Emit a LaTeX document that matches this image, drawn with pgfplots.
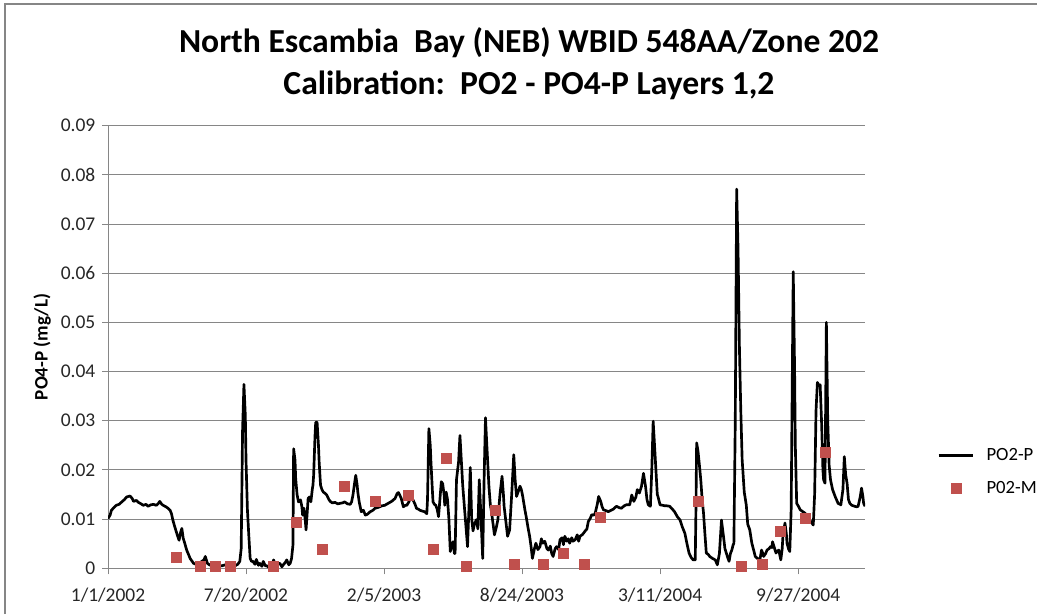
\documentclass[border=0pt]{standalone}
\usepackage{pgfplots}
\pgfplotsset{compat=1.18}
\usepackage{fontspec}
\setmainfont{Carlito}
\definecolor{gridgray}{RGB}{134,134,134}
\definecolor{obsred}{RGB}{192,80,77}

\pgfplotsset{
  lineleg/.style={legend image code/.code={\draw[##1] (0pt,0pt) -- (26pt,0pt);
    \path (33pt,0pt);}},
  markleg/.style={legend image code/.code={\draw[mark repeat=2,mark phase=2,##1]
    plot coordinates {(0pt,0pt)(13pt,0pt)(26pt,0pt)}; \path (33pt,0pt);}},
}

% modeled series (daily; day 0 = 1/1/2002)
\pgfplotstableread{
day val
0 0.0101
3 0.0108
5 0.0118
9 0.0124
12 0.0128
16 0.0130
20 0.0135
24 0.0140
27 0.0145
32 0.0147
35 0.0142
37 0.0136
41 0.0138
44 0.0134
48 0.0131
51 0.0128
55 0.0130
58 0.0126
62 0.0129
66 0.0130
70 0.0128
73 0.0132
75 0.0136
78 0.0130
80 0.0128
84 0.0125
87 0.0122
90 0.0118
92 0.0111
94 0.0098
96 0.0088
99 0.0074
101 0.0065
103 0.0057
105 0.0072
107 0.0081
109 0.0061
111 0.0052
114 0.0037
117 0.0027
119 0.0020
122 0.0014
124 0.0010
128 0.0008
131 0.0007
134 0.0012
136 0.0014
139 0.0017
141 0.0024
144 0.0010
147 0.0007
150 0.0005
154 0.0008
157 0.0010
161 0.0006
165 0.0005
170 0.0007
175 0.0004
180 0.0006
184 0.0005
188 0.0008
191 0.0014
193 0.0040
195 0.0280
197 0.0374
199 0.0310
200 0.0220
202 0.0120
204 0.0068
206 0.0020
208 0.0014
210 0.0014
213 0.0008
215 0.0018
218 0.0006
220 0.0010
223 0.0004
225 0.0014
228 0.0005
230 0.0005
233 0.0002
235 0.0010
238 0.0006
240 0.0017
242 0.0008
244 0.0007
247 0.0010
249 0.0010
252 0.0003
254 0.0007
257 0.0012
259 0.0017
262 0.0007
264 0.0010
266 0.0020
268 0.0047
269 0.0243
271 0.0220
272 0.0182
274 0.0150
276 0.0135
279 0.0139
281 0.0125
282 0.0108
284 0.0122
286 0.0095
287 0.0078
289 0.0120
290 0.0142
292 0.0145
294 0.0135
296 0.0160
297 0.0169
298 0.0189
300 0.0270
301 0.0297
303 0.0297
305 0.0250
306 0.0216
308 0.0169
310 0.0160
312 0.0155
315 0.0152
317 0.0149
320 0.0140
322 0.0136
325 0.0133
329 0.0134
333 0.0131
336 0.0132
340 0.0133
343 0.0135
347 0.0131
351 0.0130
353 0.0135
355 0.0149
357 0.0170
359 0.0189
361 0.0170
362 0.0155
364 0.0135
367 0.0115
370 0.0118
373 0.0108
376 0.0110
380 0.0115
384 0.0118
387 0.0122
392 0.0124
397 0.0127
401 0.0128
406 0.0132
411 0.0136
416 0.0142
419 0.0152
421 0.0154
423 0.0148
425 0.0142
428 0.0125
431 0.0128
433 0.0128
436 0.0135
438 0.0142
442 0.0139
445 0.0130
447 0.0122
450 0.0120
452 0.0118
456 0.0116
459 0.0115
462 0.0111
463 0.0140
465 0.0284
467 0.0250
468 0.0216
470 0.0160
471 0.0135
473 0.0130
475 0.0128
477 0.0120
479 0.0105
481 0.0140
483 0.0176
485 0.0172
487 0.0150
488 0.0128
490 0.0155
492 0.0140
494 0.0100
496 0.0034
498 0.0045
500 0.0054
502 0.0030
503 0.0030
505 0.0180
508 0.0216
510 0.0270
512 0.0220
514 0.0169
517 0.0115
519 0.0080
521 0.0044
523 0.0120
525 0.0205
527 0.0101
529 0.0076
531 0.0090
534 0.0099
536 0.0080
538 0.0180
540 0.0120
543 0.0020
545 0.0180
547 0.0306
549 0.0250
552 0.0167
554 0.0130
556 0.0112
558 0.0090
560 0.0068
563 0.0085
565 0.0099
568 0.0150
571 0.0187
573 0.0150
574 0.0126
577 0.0090
579 0.0065
582 0.0078
585 0.0150
588 0.0231
590 0.0180
592 0.0146
595 0.0158
597 0.0167
599 0.0160
601 0.0146
604 0.0120
606 0.0105
609 0.0080
611 0.0065
613 0.0045
615 0.0020
618 0.0040
620 0.0051
623 0.0038
626 0.0044
628 0.0060
630 0.0051
633 0.0055
636 0.0040
638 0.0037
641 0.0045
643 0.0030
645 0.0024
648 0.0040
650 0.0044
653 0.0038
655 0.0058
658 0.0062
660 0.0048
662 0.0065
665 0.0055
667 0.0060
669 0.0051
672 0.0062
674 0.0055
677 0.0058
680 0.0068
682 0.0055
684 0.0065
687 0.0068
689 0.0071
691 0.0075
694 0.0080
696 0.0095
699 0.0102
701 0.0109
704 0.0108
706 0.0112
709 0.0130
711 0.0146
714 0.0136
716 0.0125
718 0.0119
722 0.0117
725 0.0115
729 0.0118
732 0.0120
735 0.0124
737 0.0126
741 0.0123
744 0.0122
748 0.0127
751 0.0129
756 0.0129
759 0.0149
762 0.0136
765 0.0145
767 0.0160
770 0.0153
773 0.0166
776 0.0193
779 0.0166
781 0.0140
783 0.0129
786 0.0126
788 0.0200
790 0.0299
792 0.0250
794 0.0200
796 0.0150
797 0.0146
800 0.0129
804 0.0128
807 0.0127
810 0.0127
814 0.0126
818 0.0120
821 0.0115
825 0.0105
829 0.0098
832 0.0085
836 0.0071
839 0.0050
842 0.0031
845 0.0022
848 0.0017
851 0.0017
852 0.0120
853 0.0255
855 0.0238
857 0.0210
859 0.0180
861 0.0140
863 0.0112
865 0.0070
867 0.0031
870 0.0028
872 0.0024
876 0.0020
880 0.0017
883 0.0007
886 0.0030
889 0.0098
892 0.0064
894 0.0040
896 0.0031
898 0.0022
900 0.0014
902 0.0030
904 0.0037
906 0.0048
907 0.0051
909 0.0300
911 0.0771
913 0.0650
915 0.0450
917 0.0320
919 0.0220
922 0.0155
925 0.0128
927 0.0090
930 0.0078
933 0.0051
936 0.0035
938 0.0024
941 0.0020
943 0.0017
945 0.0020
947 0.0037
949 0.0030
950 0.0024
953 0.0030
955 0.0037
958 0.0040
960 0.0044
962 0.0042
963 0.0054
966 0.0040
968 0.0031
970 0.0035
972 0.0037
975 0.0017
977 0.0040
978 0.0064
981 0.0092
983 0.0070
984 0.0051
986 0.0040
988 0.0034
990 0.0120
992 0.0450
993 0.0603
995 0.0400
996 0.0250
998 0.0132
1001 0.0125
1003 0.0119
1007 0.0115
1010 0.0112
1014 0.0105
1017 0.0098
1020 0.0092
1022 0.0088
1024 0.0150
1026 0.0320
1028 0.0378
1030 0.0372
1032 0.0373
1034 0.0300
1036 0.0200
1037 0.0180
1039 0.0173
1041 0.0500
1043 0.0300
1045 0.0210
1047 0.0180
1050 0.0160
1054 0.0145
1058 0.0132
1062 0.0129
1065 0.0160
1067 0.0227
1069 0.0190
1071 0.0173
1073 0.0140
1075 0.0132
1078 0.0128
1082 0.0126
1085 0.0125
1087 0.0126
1090 0.0145
1092 0.0163
1094 0.0145
1095 0.0132
1097 0.0126
}\modeled

% measured samples
\pgfplotstableread{
day val
99 0.0022
134 0.0005
155 0.0005
177 0.0005
239 0.0004
273 0.0093
310 0.0039
343 0.0166
387 0.0136
435 0.0148
471 0.0039
490 0.0224
519 0.0005
561 0.0117
589 0.0008
631 0.0008
660 0.0031
690 0.0008
713 0.0104
856 0.0136
918 0.0004
948 0.0008
974 0.0075
1010 0.0102
1040 0.0235
}\measured

\begin{document}
\begin{tikzpicture}
\useasboundingbox (0,0) rectangle (777.75pt,460.5pt);
% chart area frame (only left and top edges fall inside the picture)
\draw[gridgray, line width=0.9pt] (3.75pt,0pt) -- (3.75pt,457.5pt) -- (777.75pt,457.5pt);

\node[anchor=base,font=\fontsize{25.2}{30}\selectfont\bfseries]
  at (396.75pt,420.75pt) {North Escambia\ \ Bay (NEB) WBID 548AA/Zone 202};
\node[anchor=base,font=\fontsize{25.2}{30}\selectfont\bfseries]
  at (396.75pt,389.25pt) {Calibration:\ \ PO2 - PO4-P Layers 1,2};

\begin{axis}[
  at={(81pt,34.3pt)}, anchor=south west,
  scale only axis,
  width=567.75pt, height=331.95pt,
  xmin=0, xmax=1097,
  ymin=0, ymax=0.09,
  scaled y ticks=false,
  axis x line*=bottom,
  axis y line*=left,
  axis line style={gridgray, line width=0.75pt},
  tick style={gridgray, line width=0.75pt},
  tick align=outside,
  major tick length=4.5pt,
  xtick={0,200,400,600,800,1000},
  xticklabels={1/1/2002,7/20/2002,2/5/2003,8/24/2003,3/11/2004,9/27/2004},
  ytick={0,0.01,0.02,0.03,0.04,0.05,0.06,0.07,0.08,0.09},
  yticklabels={0,0.01,0.02,0.03,0.04,0.05,0.06,0.07,0.08,0.09},
  ymajorgrids,
  major grid style={gridgray, line width=0.75pt},
  /pgf/number format/assume math mode=true,
  ticklabel style={font=\fontsize{14.6}{17}\selectfont, text=black!85},
  xticklabel style={yshift=-6.5pt},
  yticklabel style={xshift=-1.5pt},
  ylabel={PO4-P (mg/L)},
  ylabel style={at={(axis description cs:-0.087,0.5)}, anchor=center,
    font=\fontsize{14.3}{17}\selectfont\bfseries},
  legend style={at={(axis description cs:1.095,0.2176)}, anchor=west,
    draw=none, fill=none, font=\fontsize{14}{17}\selectfont,
    row sep=10pt, inner sep=0pt},
  legend cell align=left,
]
\addplot[black, line width=2pt, line join=round, lineleg]
  table[x=day, y=val] {\modeled};
\addlegendentry{PO2-P}
\addplot[only marks, mark=square*, mark size=3.75pt,
  color=obsred, fill=obsred, markleg]
  table[x=day, y=val] {\measured};
\addlegendentry{P02-M}
\end{axis}
\end{tikzpicture}
\end{document}
